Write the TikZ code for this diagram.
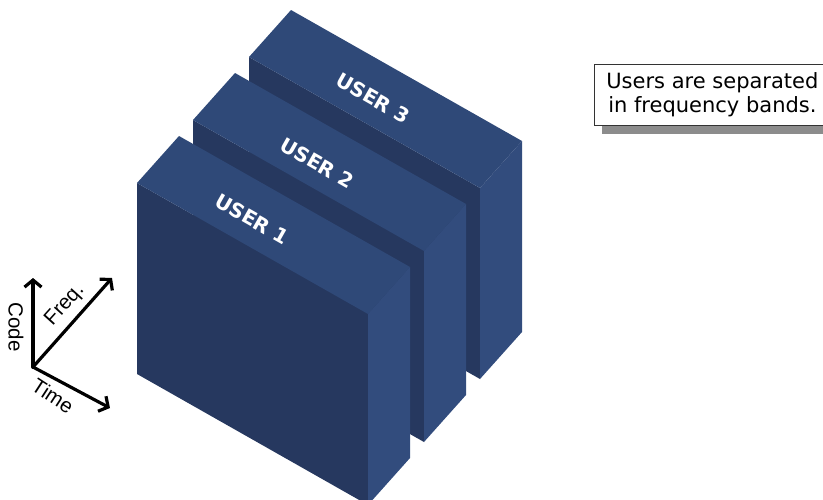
\documentclass[tikz,border=0pt]{standalone}
\usepackage{fontspec}
\setmainfont{DejaVu Sans}
\newfontfamily\axisfont{Liberation Sans}
\usetikzlibrary{arrows.meta,shadows}

\definecolor{facefront}{HTML}{26385F}
\definecolor{facetop}{HTML}{2F4978}
\definecolor{faceside}{HTML}{324C7D}

\tikzset{
  userlabel/.style={text=white, font=\bfseries\fontsize{20}{20}\selectfont, rotate=-29.6, inner sep=0pt},
  axisline/.style={line width=3.2pt, -{Straight Barb[length=7pt,width=17pt,line width=3.2pt]}},
  axislabel/.style={font=\axisfont\fontsize{20.5}{20.5}\selectfont, inner sep=0pt},
  notebox/.style={draw=black!80, line width=0.8pt, fill=white, anchor=north west,
    minimum width=236pt, minimum height=61pt, inner sep=0pt, align=center,
    font=\fontsize{21}{24}\selectfont,
    drop shadow={shadow xshift=8pt, shadow yshift=-9pt, fill=black!45, opacity=1}}
}

\begin{document}
\begin{tikzpicture}[x=1pt,y=-1pt]
\useasboundingbox (0,0) rectangle (823,499);
\clip (0,0) rectangle (823,499);

% three frequency slabs, drawn back to front
\foreach \px/\py in {249/57, 193/120, 137/183} {
  % front face
  \fill[facefront] (\px,\py) -- ++(231,131) -- ++(0,191) -- ++(-231,-131) -- cycle;
  % top face
  \fill[facetop] (\px,\py) -- ++(231,131) -- ++(42,-47) -- ++(-231,-131) -- cycle;
  % right face
  \fill[faceside] (\px+231,\py+131) -- ++(42,-47) -- ++(0,191) -- ++(-42,47) -- cycle;
}

% slab labels on the top faces
\node[userlabel] (u3) at (373,98) {USER 3};
\node[userlabel] (u2) at (317,163) {USER 2};
\node[userlabel] (u1) at (252,219) {USER 1};

% axis cross
\coordinate (o) at (33,367);
\coordinate (code) at (33,278);
\coordinate (freq) at (112,278);
\coordinate (time) at (110,408);
\draw[axisline] (o) -- (code);
\draw[axisline] (o) -- (freq);
\draw[axisline] (o) -- (time);
\fill (o) circle (2pt);
\node[axislabel, rotate=-90] (lcode) at (16,327) {Code};
\node[axislabel, rotate=48] (lfreq) at (65,305) {Freq.};
\node[axislabel, rotate=-33] (ltime) at (53,396) {Time};

% explanatory note
\node[notebox] (note) at (594,64) {Users are separated\\in frequency bands.};
\end{tikzpicture}
\end{document}
